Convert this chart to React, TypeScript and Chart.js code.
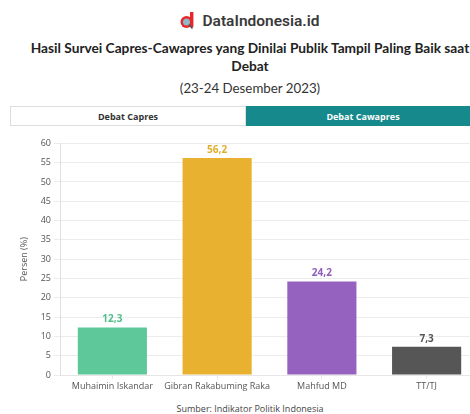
import React, { useEffect, useRef } from "react";
import { Chart, registerables } from "chart.js";

Chart.register(...registerables);

const categories = ["Muhaimin Iskandar", "Gibran Rakabuming Raka", "Mahfud MD", "TT/TJ"];
const values = [12.3, 56.2, 24.2, 7.3];
const barColors = ["#5fc89b", "#e8b230", "#9562bf", "#565656"];
const labelColors = ["#4fbf8c", "#e2ad2a", "#8e5cbc", "#555555"];
const yTicks = [0, 5, 10, 15, 20, 25, 30, 35, 40, 45, 50, 55, 60];

const FONT = "'Open Sans', 'Noto Sans', sans-serif";
const HFONT = "Lato, 'Open Sans', sans-serif";

const valueLabels = {
  id: "valueLabels",
  afterDatasetsDraw(chart: any) {
    const ctx = chart.ctx;
    const meta = chart.getDatasetMeta(0);
    ctx.save();
    ctx.font = `bold 10px ${FONT}`;
    ctx.textAlign = "center";
    ctx.textBaseline = "bottom";
    meta.data.forEach((bar: any, i: number) => {
      ctx.fillStyle = labelColors[i];
      ctx.fillText(values[i].toFixed(1).replace(".", ","), bar.x, bar.y - 3);
    });
    ctx.restore();
  },
};

function BarChart() {
  const ref = useRef<HTMLCanvasElement>(null);
  useEffect(() => {
    const chart = new Chart(ref.current!, {
      type: "bar",
      data: {
        labels: categories,
        datasets: [
          {
            data: values,
            backgroundColor: barColors,
            barPercentage: 0.66,
            categoryPercentage: 1,
          },
        ],
      },
      options: {
        animation: false,
        responsive: false,
        maintainAspectRatio: false,
        layout: { padding: { top: 3, right: 11, left: 19, bottom: 0 } },
        plugins: { legend: { display: false }, tooltip: { enabled: false } },
        scales: {
          x: {
            grid: { drawOnChartArea: false, color: "#e6e6e6", tickLength: 4, offset: false },
            border: { color: "#e6e6e6" },
            ticks: {
              color: "#555",
              font: { family: FONT, size: 9 },
              padding: 2,
              maxRotation: 0,
              autoSkip: false,
            },
            afterFit(s: any) {
              s.height = 20;
            },
          },
          y: {
            min: 0,
            max: 60,
            afterBuildTicks(s: any) {
              s.ticks = yTicks.map((v) => ({ value: v }));
            },
            grid: { color: "#ececec", tickLength: 6 },
            border: { color: "#e0e0e0" },
            ticks: { color: "#555", font: { family: FONT, size: 9 }, padding: 3 },
            title: {
              display: true,
              text: "Persen (%)",
              color: "#555",
              font: { family: FONT, size: 9 },
              padding: 0,
            },
            afterFit(s: any) {
              s.width = 41;
            },
          },
        },
      },
      plugins: [valueLabels],
    });
    return () => chart.destroy();
  }, []);
  return (
    <canvas
      ref={ref}
      width={490}
      height={260}
      style={{ position: "absolute", left: 0, top: 135, width: 490, height: 260 }}
    />
  );
}

export default function App() {
  useEffect(() => {
    document.body.style.margin = "0";
  }, []);
  return (
    <div
      style={{
        position: "relative",
        width: 470,
        height: 414,
        overflow: "hidden",
        background: "#fff",
        fontFamily: FONT,
        color: "#222",
      }}
    >
      <div style={{ position: "absolute", left: 0, top: 0, width: 500, height: 414 }}>
        {/* logo */}
        <div
          style={{
            position: "absolute",
            top: 12,
            left: 0,
            width: 500,
            display: "flex",
            justifyContent: "center",
            alignItems: "center",
            gap: 6,
          }}
        >
          <svg width="16" height="18" viewBox="0 0 16 18">
            <rect x="10" y="0" width="3.4" height="15" fill="#e8262c" />
            <circle cx="6.5" cy="10" r="6" fill="#e8262c" />
            <circle cx="6.5" cy="10" r="3.5" fill="#8fb8c8" />
            <line x1="9" y1="12.5" x2="12.5" y2="16.5" stroke="#555" strokeWidth="1.8" />
          </svg>
          <span style={{ fontSize: 15.5, fontWeight: 600, color: "#3a3a3a", fontFamily: "Roboto, sans-serif" }}>
            DataIndonesia.id
          </span>
        </div>
        {/* title */}
        <div
          style={{
            position: "absolute",
            top: 39,
            left: 0,
            width: 500,
            textAlign: "center",
            fontSize: 13.7,
            fontWeight: 700,
            lineHeight: "18px",
            color: "#222",
            fontFamily: HFONT,
          }}
        >
          Hasil Survei Capres-Cawapres yang Dinilai Publik Tampil Paling Baik saat
          <br />
          Debat
        </div>
        <div
          style={{
            position: "absolute",
            top: 79,
            left: 0,
            width: 500,
            textAlign: "center",
            fontSize: 13.3,
            lineHeight: "18px",
            color: "#333",
            fontFamily: HFONT,
          }}
        >
          (23-24 Desember 2023)
        </div>
        {/* tabs */}
        <div
          style={{
            position: "absolute",
            top: 106,
            left: 10,
            width: 470,
            height: 20,
            display: "flex",
            fontSize: 9,
            fontWeight: 700,
            boxSizing: "border-box",
          }}
        >
          <div
            style={{
              flex: 1,
              border: "1px solid #ddd",
              boxSizing: "border-box",
              display: "flex",
              alignItems: "center",
              justifyContent: "center",
              color: "#333",
              background: "#fff",
            }}
          >
            Debat Capres
          </div>
          <div
            style={{
              flex: 1,
              background: "#15898b",
              display: "flex",
              alignItems: "center",
              justifyContent: "center",
              color: "#fff",
            }}
          >
            Debat Cawapres
          </div>
        </div>
        <BarChart />
        <div
          style={{
            position: "absolute",
            top: 402,
            left: 0,
            width: 500,
            textAlign: "center",
            fontSize: 9,
            color: "#444",
          }}
        >
          Sumber: Indikator Politik Indonesia
        </div>
      </div>
    </div>
  );
}
